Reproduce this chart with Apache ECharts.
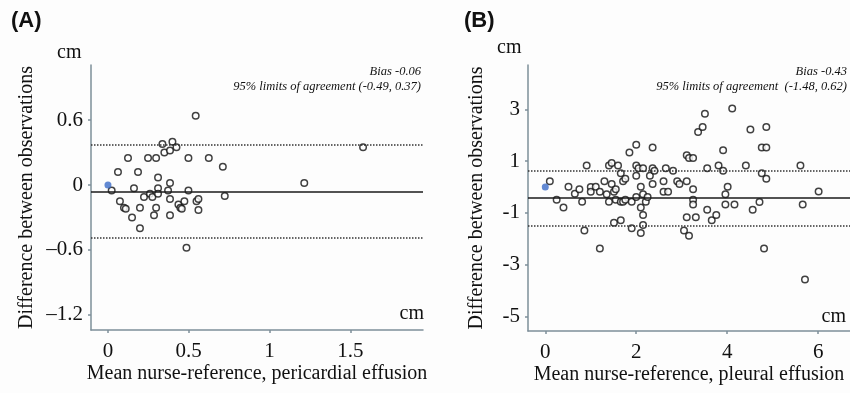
<!DOCTYPE html>
<html>
<head>
<meta charset="utf-8">
<script src="https://cdn.jsdelivr.net/npm/echarts@6/dist/echarts.min.js"></script>
<style>
  html, body { margin: 0; padding: 0; background: #fdfdfd; }
  #chart { width: 850px; height: 393px; }
</style>
</head>
<body>
<div id="chart"></div>
<script>
// panel A: pericardial effusion (mean vs difference, cm)
const pericardialMean = [
  0.023, 0.062, 0.074, 0.099, 0.110, 0.124, 0.149, 0.161, 0.186, 0.198, 0.198,
  0.223, 0.248, 0.260, 0.275, 0.285, 0.298, 0.298, 0.310, 0.310, 0.310, 0.337,
  0.349, 0.372, 0.384, 0.384, 0.384, 0.384, 0.399, 0.424, 0.436, 0.448, 0.457,
  0.473, 0.486, 0.498, 0.498, 0.543, 0.548, 0.560, 0.560, 0.624, 0.711, 0.723,
  1.215, 1.579
];
const pericardialDiff = [
  -0.05, 0.12, -0.15, -0.21, -0.22, 0.25, -0.30, -0.03, 0.12, -0.21, -0.40,
  -0.11, 0.25, -0.08, -0.11, -0.28, 0.25, -0.21, 0.07, -0.03, -0.08, 0.38,
  0.30, -0.05, 0.32, 0.02, -0.13, -0.28, 0.40, 0.35, -0.18, -0.21, -0.22,
  -0.15, -0.58, 0.25, -0.05, 0.64, -0.15, -0.13, -0.23, 0.25, 0.17, -0.10,
  0.02, 0.35
];
// bias, lower limit, upper limit
const pericardialStats = [-0.06, -0.49, 0.37];

// panel B: pleural effusion
const pleuralMean = [
  0.10, 0.25, 0.40, 0.51, 0.65, 0.75, 0.81, 0.86, 0.91, 1.00, 1.00, 1.11,
  1.20, 1.20, 1.30, 1.35, 1.40, 1.40, 1.46, 1.46, 1.51, 1.51, 1.55, 1.55,
  1.60, 1.66, 1.66, 1.66, 1.71, 1.71, 1.76, 1.76, 1.85, 1.90, 1.90, 2.00,
  2.00, 2.00, 2.00, 2.05, 2.10, 2.10, 2.10, 2.15, 2.15, 2.15, 2.15, 2.21,
  2.25, 2.30, 2.36, 2.36, 2.36, 2.40, 2.60, 2.60, 2.65, 2.70, 2.81, 2.90,
  2.95, 3.05, 3.11, 3.11, 3.11, 3.16, 3.16, 3.25, 3.25, 3.25, 3.25, 3.31,
  3.36, 3.46, 3.51, 3.56, 3.56, 3.66, 3.76, 3.81, 3.91, 3.91, 3.96, 3.96,
  4.01, 4.11, 4.16, 4.41, 4.51, 4.56, 4.71, 4.76, 4.76, 4.81, 4.86, 4.86,
  4.86, 5.61, 5.66, 5.71, 6.01
];
const pleuralDiff = [
  0.22, -0.49, -0.79, 0.01, -0.26, -0.09, -0.57, -1.68, 0.83, 0.00, -0.18, 0.01,
  -0.18, -2.37, 0.22, -0.28, -0.57, 0.83, 0.93, 0.12, -1.38, -0.18, -0.49, -0.09,
  0.83, 0.53, -1.28, -0.57, 0.22, -0.57, 0.32, -0.49, 1.33, -0.57, -1.59, 1.63,
  0.83, 0.43, -0.39, 0.72, 0.01, -0.79, -1.78, 0.72, -0.28, -1.08, -1.47, -0.57,
  -0.39, 0.43, 1.52, 0.72, 0.12, 0.63, 0.22, -0.18, 0.72, -0.18, 0.63, 0.22,
  0.12, -1.68, 1.23, 0.22, -1.17, -1.88, 1.12, 1.12, -0.09, -0.49, -0.68, -1.17,
  2.12, 2.32, 2.83, 0.72, -0.88, -1.28, -1.08, 0.83, 1.42, 0.63, -0.28, -0.68,
  0.01, 3.03, -0.68, 0.83, 2.22, -0.88, -0.58, 1.52, 0.53, -2.37, 2.32, 1.52,
  0.32, 0.83, -0.68, -3.57, -0.17
];
const pleuralStats = [-0.43, -1.48, 0.62];

const refPoint = [0, 0];

const pericardialXTicks = [0, 0.5, 1, 1.5];
const pericardialYTicks = [-1.2, -0.6, 0, 0.6];
const pleuralXTicks = [0, 2, 4, 6];
const pleuralYTicks = [-5, -3, -1, 1, 3];

const serif = '"Liberation Serif", "DejaVu Serif", serif';
const axisColor = '#7d8f99';

const zip = (xs, ys) => xs.map((x, i) => [x, ys[i]]);
const fmt = (v) => v.toFixed(2);

function makeAxis(gridIndex, min, max, ticks, name, gap, isY, dash) {
  return {
    type: 'value',
    gridIndex: gridIndex,
    min: min,
    max: max,
    name: name,
    nameLocation: 'middle',
    nameGap: gap,
    nameMoveOverlap: false,
    nameTextStyle: { fontFamily: serif, fontSize: 20, color: '#111' },
    axisLine: { show: true, onZero: false, lineStyle: { color: axisColor, width: 1.5 } },
    axisTick: { show: true, length: 3, customValues: ticks, lineStyle: { color: axisColor, width: 1.5 } },
    axisLabel: {
      customValues: ticks,
      fontFamily: serif,
      fontSize: 21,
      color: '#111',
      margin: isY ? 8 : 11,
      formatter: (v) => (v < 0 ? dash + Math.abs(v) : String(v))
    },
    splitLine: { show: false }
  };
}

function makeSeries(idx, xs, ys, stats) {
  return [
    {
      type: 'scatter',
      xAxisIndex: idx,
      yAxisIndex: idx,
      data: zip(xs, ys),
      symbol: 'circle',
      symbolSize: 6.5,
      itemStyle: { color: '#ffffff', borderColor: '#111', borderWidth: 1.5 },
      z: 3,
      markLine: {
        silent: true,
        symbol: 'none',
        label: { show: false },
        data: [
          { yAxis: stats[0], lineStyle: { type: 'solid', color: '#1a1a1a', width: 1.6 } },
          { yAxis: stats[1], lineStyle: { type: [1.5, 1.5], color: '#333', width: 1.6 } },
          { yAxis: stats[2], lineStyle: { type: [1.5, 1.5], color: '#333', width: 1.6 } }
        ]
      }
    },
    {
      type: 'scatter',
      xAxisIndex: idx,
      yAxisIndex: idx,
      data: [refPoint],
      symbolSize: 7,
      itemStyle: { color: '#3b6cc8' },
      z: 4
    }
  ];
}

function txt(x, y, text, font, align) {
  return {
    type: 'text',
    x: x,
    y: y,
    style: {
      text: text,
      font: font,
      fill: '#111',
      textAlign: align || 'left',
      textVerticalAlign: 'middle'
    }
  };
}

const chart = echarts.init(document.getElementById('chart'));
const option = {
  animation: false,
  backgroundColor: '#fdfdfd',
  grid: [
    { left: 91, top: 65, width: 332, height: 265 },
    { left: 528, top: 65, width: 322, height: 266 }
  ],
  xAxis: [
    makeAxis(0, -0.105, 1.95, pericardialXTicks, 'Mean nurse-reference, pericardial effusion', 34, false, '–'),
    makeAxis(1, -0.38, 6.7, pleuralXTicks, 'Mean nurse-reference, pleural effusion', 34, false, '-')
  ],
  yAxis: [
    makeAxis(0, -1.34, 1.11, pericardialYTicks, 'Difference between observations', 54, true, '–'),
    makeAxis(1, -5.56, 4.71, pleuralYTicks, 'Difference between observations', 41, true, '-')
  ],
  series: [
    ...makeSeries(0, pericardialMean, pericardialDiff, pericardialStats),
    ...makeSeries(1, pleuralMean, pleuralDiff, pleuralStats)
  ],
  graphic: [
    txt(11, 21, '(A)', 'bold 22px "Liberation Sans", Arial, sans-serif'),
    txt(464, 21, '(B)', 'bold 22px "Liberation Sans", Arial, sans-serif'),
    txt(57, 53, 'cm', '20px ' + serif),
    txt(497, 48, 'cm', '20px ' + serif),
    txt(424, 314, 'cm', '20px ' + serif, 'right'),
    txt(846, 317, 'cm', '20px ' + serif, 'right'),
    txt(421, 72, 'Bias ' + fmt(pericardialStats[0]), 'italic 12.5px ' + serif, 'right'),
    txt(421, 87, '95% limits of agreement (' + fmt(pericardialStats[1]) + ', ' + fmt(pericardialStats[2]) + ')', 'italic 12.5px ' + serif, 'right'),
    txt(847, 72, 'Bias ' + fmt(pleuralStats[0]), 'italic 12.5px ' + serif, 'right'),
    txt(847, 87, '95% limits of agreement  (' + fmt(pleuralStats[1]) + ', ' + fmt(pleuralStats[2]) + ')', 'italic 12.5px ' + serif, 'right')
  ]
};
chart.setOption(option);
</script>
</body>
</html>
